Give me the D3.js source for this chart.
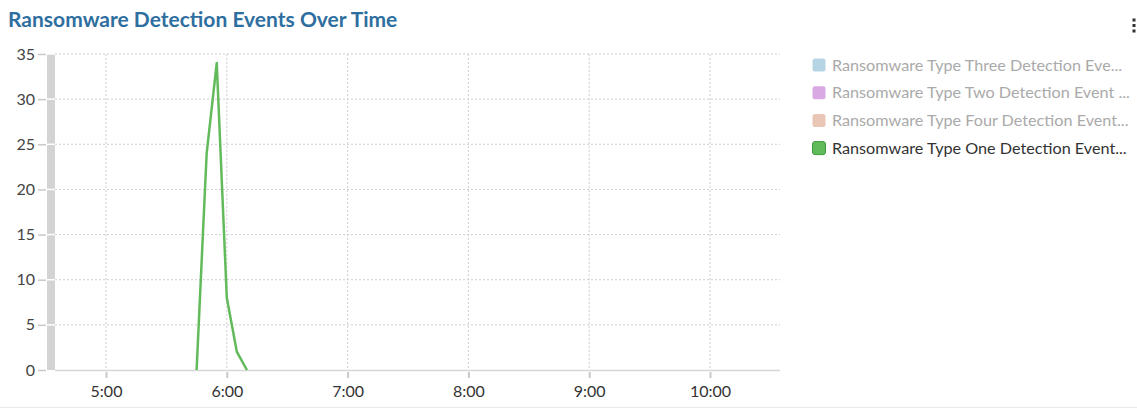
<!DOCTYPE html>
<html>
<head>
<meta charset="utf-8">
<script src="https://cdn.jsdelivr.net/npm/d3@7"></script>
<style>
  html, body { margin: 0; padding: 0; background: #fff; }
  svg { display: block; font-family: Lato, "Open Sans", sans-serif; }
</style>
</head>
<body>
<svg id="chart" width="1137" height="410"></svg>
<script>
// ---- data ----
const title = "Ransomware Detection Events Over Time";
const seriesNames = [
  "Ransomware Type Three Detection Eve...",
  "Ransomware Type Two Detection Event ...",
  "Ransomware Type Four Detection Event...",
  "Ransomware Type One Detection Event..."
];
const seriesColors = ["#b5d5e4", "#d8a9e3", "#e9c6b6", "#62bb5a"];
const seriesActive = [false, false, false, true];
const timeLabels = ["5:45", "5:50", "5:55", "6:00", "6:05", "6:10"];
const typeOneValues = [0, 24, 34, 8, 2, 0];
const yTicks = [0, 5, 10, 15, 20, 25, 30, 35];
const xTickLabels = ["5:00", "6:00", "7:00", "8:00", "9:00", "10:00"];

// ---- helpers ----
const parseT = s => { const [h, m] = s.split(":").map(Number); return new Date(2020, 0, 1, h, m); };
const svg = d3.select("#chart");

const plotLeft = 55, plotRight = 780, plotTop = 54, plotBottom = 370;
const x = d3.scaleTime()
  .domain([parseT(xTickLabels[0]), parseT(xTickLabels[xTickLabels.length - 1])])
  .range([106, 710]);
const y = d3.scaleLinear().domain([0, 35]).range([plotBottom, plotTop]);
const xTicks = xTickLabels.map(parseT);

// title
svg.append("text").attr("x", 8).attr("y", 27)
  .attr("font-size", 21).attr("font-weight", 700).attr("fill", "#2f6f9f")
  .text(title);

// kebab menu
[20, 25.5, 31].forEach(cy => svg.append("rect")
  .attr("x", 1132.5).attr("y", cy - 1.5).attr("width", 3).attr("height", 3).attr("fill", "#333"));

// grid
const grid = svg.append("g");
grid.selectAll("line.h").data(yTicks.filter(v => v > 0)).join("line")
  .attr("x1", plotLeft).attr("x2", plotRight)
  .attr("y1", d => y(d)).attr("y2", d => y(d))
  .attr("stroke", "#cfcfcf").attr("stroke-dasharray", "2,2").attr("stroke-width", 1);
grid.selectAll("line.v").data(xTicks).join("line")
  .attr("x1", d => x(d)).attr("x2", d => x(d))
  .attr("y1", plotTop).attr("y2", plotBottom)
  .attr("stroke", "#cfcfcf").attr("stroke-dasharray", "2,2").attr("stroke-width", 1);

// y axis bar + ticks
svg.append("rect").attr("x", 47).attr("y", plotTop).attr("width", 8).attr("height", plotBottom - plotTop)
  .attr("fill", "#d3d3d3");
const yAxis = d3.axisLeft(y).tickValues(yTicks).tickSize(8).tickPadding(3);
const yg = svg.append("g").attr("transform", `translate(46,0)`).call(yAxis);
yg.select(".domain").remove();
yg.selectAll(".tick line").attr("stroke", "#c8c8c8").attr("stroke-width", 1.5);
yg.selectAll(".tick text").attr("font-size", 16).attr("fill", "#444").attr("font-family", "Lato, sans-serif");
svg.selectAll("line.ywhite").data(yTicks.filter(v => v > 0)).join("line")
  .attr("x1", 47).attr("x2", 55).attr("y1", d => y(d)).attr("y2", d => y(d))
  .attr("stroke", "#fff").attr("stroke-width", 1.5);

// x axis
svg.append("line").attr("x1", plotLeft).attr("x2", plotRight).attr("y1", plotBottom + 0.5).attr("y2", plotBottom + 0.5)
  .attr("stroke", "#d6d6d6").attr("stroke-width", 1.5);
const xAxis = d3.axisBottom(x).tickValues(xTicks).tickFormat((d, i) => xTickLabels[i]).tickSize(6).tickPadding(8);
const xg = svg.append("g").attr("transform", `translate(0,${plotBottom + 2})`).call(xAxis);
xg.select(".domain").remove();
xg.selectAll(".tick line").attr("stroke", "#c8c8c8").attr("stroke-width", 2);
xg.selectAll(".tick text").attr("font-size", 16).attr("fill", "#333").attr("font-family", "Lato, sans-serif");

// bottom border
svg.append("line").attr("x1", 0).attr("x2", 1137).attr("y1", 407.5).attr("y2", 407.5)
  .attr("stroke", "#eaeaea").attr("stroke-width", 1);

// line
const pts = timeLabels.map((t, i) => ({ t: parseT(t), v: typeOneValues[i] }));
svg.append("path").datum(pts)
  .attr("d", d3.line().x(d => x(d.t)).y(d => y(d.v)))
  .attr("fill", "none").attr("stroke", seriesColors[3]).attr("stroke-width", 2.5)
  .attr("stroke-linejoin", "round");

// legend
const lg = svg.append("g");
seriesNames.forEach((name, i) => {
  const cy = 65 + i * 27.7;
  lg.append("rect").attr("x", 812.5).attr("y", cy - 6.5).attr("width", 13).attr("height", 13)
    .attr("rx", 2.5).attr("fill", seriesColors[i])
    .attr("stroke", seriesActive[i] ? "#3f9a3f" : "none").attr("stroke-width", 1);
  lg.append("text").attr("x", 832).attr("y", cy + 5.5)
    .attr("font-size", 16.2).attr("fill", seriesActive[i] ? "#333" : "#aaa")
    .text(name);
});
</script>
</body>
</html>
